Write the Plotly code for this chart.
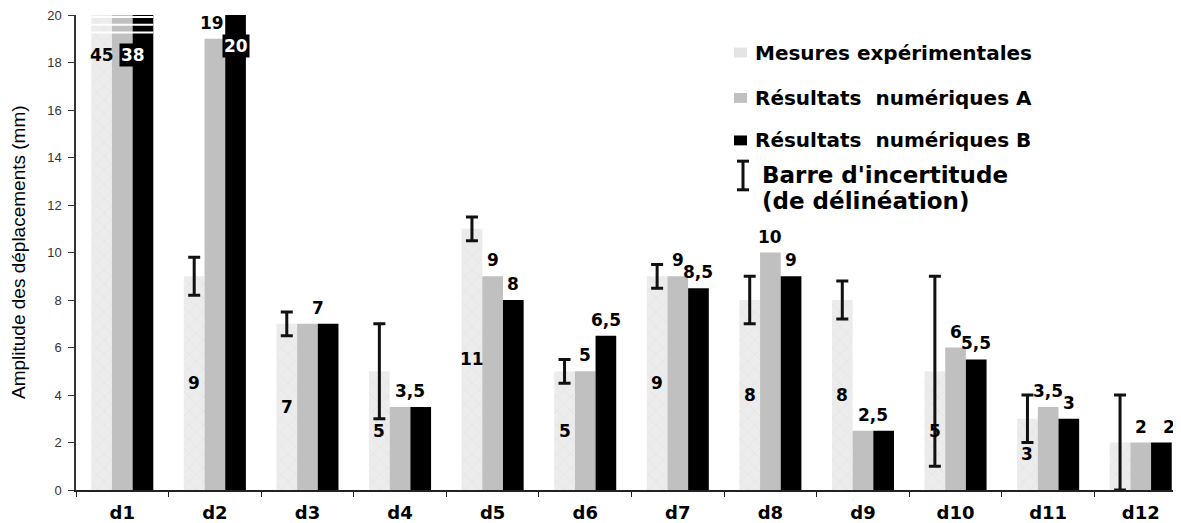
import plotly.graph_objects as go

categories = ["d1", "d2", "d3", "d4", "d5", "d6", "d7", "d8", "d9", "d10", "d11", "d12"]
mesures = [45, 9, 7, 5, 11, 5, 9, 8, 8, 5, 3, 2]
incertitude = [None, 0.8, 0.5, 2, 0.5, 0.5, 0.5, 1, 0.8, 4, 1, 2]
resultats_a = [38, 19, 7, 3.5, 9, 5, 9, 10, 2.5, 6, 3.5, 2]
resultats_b = [38, 20, 7, 3.5, 8, 6.5, 8.5, 9, 2.5, 5.5, 3, 2]
y_ticks = [0, 2, 4, 6, 8, 10, 12, 14, 16, 18, 20]

YMAX = 20
OFF = 8  # default page body margin
W, H = 1181 - OFF, 523 - OFF
ML, MR, MT, MB = 68, 0, 7, 27
BARGAP = 0.33
BW = (1 - BARGAP) / 3
LABEL_FONT = dict(family="DejaVu Sans", size=17, color="black", weight="bold")


def fmt(v):
    return f"{v:g}".replace(".", ",")


fig = go.Figure()
fig.add_trace(go.Bar(
    x=categories, y=mesures, name="Mesures expérimentales",
    marker=dict(color="#ececec", line=dict(width=0),
                pattern=dict(shape="x", fgcolor="#d3d3d3", size=10, solidity=0.1)),
    error_y=dict(type="data", array=incertitude, symmetric=True,
                 color="#111111", thickness=3, width=6),
))
fig.add_trace(go.Bar(x=categories, y=resultats_a, name="Résultats  numériques A",
                     marker=dict(color="#c0c0c0", line=dict(width=0))))
fig.add_trace(go.Bar(x=categories, y=resultats_b, name="Résultats  numériques B",
                     marker=dict(color="#000000", line=dict(width=0))))

ann = []
shapes = []

# labels on experimental bars (inside, middle)
for i, v in enumerate(mesures):
    if categories[i] == "d12":
        continue
    y = v / 2 if v <= YMAX else YMAX - 1.7
    ann.append(dict(x=i - BW, y=y, xref="x", yref="y", text=fmt(v),
                    showarrow=False, font=LABEL_FONT))


def top_label(x, v, xshift=0):
    if v >= YMAX:
        y = YMAX - 1.7 if v > YMAX else YMAX - 1.3
        ann.append(dict(x=x, y=y, xref="x", yref="y", text=fmt(v), showarrow=False,
                        font=dict(LABEL_FONT, color="white"), bgcolor="black",
                        borderpad=1, xshift=xshift))
    else:
        ann.append(dict(x=x, y=v, xref="x", yref="y", text=fmt(v), showarrow=False,
                        yanchor="bottom", yshift=4, font=LABEL_FONT, xshift=xshift))


for i, (a, b) in enumerate(zip(resultats_a, resultats_b)):
    if a == b and categories[i] != "d12":
        top_label(i + BW / 2, a)
    else:
        top_label(i, a, xshift=-3 if a > YMAX * 0.9 else 0)
        top_label(i + BW, b, xshift=8 if categories[i] == "d12" else 0)

# axis break marks on the first group
for k in range(3):
    yv = YMAX - 0.08 - k * 0.33
    shapes.append(dict(type="line", xref="x", yref="y", x0=-1.5 * BW, x1=1.5 * BW,
                       y0=yv, y1=yv, line=dict(color="white", width=2)))

# custom legend (positions given in window pixels)
PW = W - ML - MR
PH = H - MT - MB


def px(xp):
    return (xp - OFF - ML) / PW


def py(yp):
    return (OFF + H - MB - yp) / PH


legend_rows = [
    ("Mesures expérimentales", "#e4e4e4", 53),
    ("Résultats  numériques A", "#c0c0c0", 99),
    ("Résultats  numériques B", "#000000", 142),
]
for text, col, yc in legend_rows:
    shapes.append(dict(type="rect", xref="paper", yref="paper",
                       x0=px(734), x1=px(747), y0=py(yc + 5), y1=py(yc - 5),
                       fillcolor=col, line=dict(width=0)))
    ann.append(dict(x=px(753), y=py(yc), xref="paper", yref="paper", text=text,
                    xanchor="left", yanchor="middle", showarrow=False,
                    font=dict(family="DejaVu Sans", size=20, color="black", weight="bold")))

# error bar legend symbol
shapes.append(dict(type="line", xref="paper", yref="paper", x0=px(743), x1=px(743),
                   y0=py(163), y1=py(192), line=dict(color="#111111", width=3)))
for yy in (163, 192):
    shapes.append(dict(type="line", xref="paper", yref="paper", x0=px(737), x1=px(749),
                       y0=py(yy), y1=py(yy), line=dict(color="#111111", width=3)))
for text, yc in (("Barre d'incertitude", 177), ("(de délinéation)", 203)):
    ann.append(dict(x=px(760), y=py(yc), xref="paper", yref="paper", text=text,
                    xanchor="left", yanchor="middle", showarrow=False,
                    font=dict(family="DejaVu Sans", size=23, color="black", weight="bold")))

# y-axis title
ann.append(dict(x=0, y=0.5, xref="paper", yref="paper", xshift=-70,
                text="Amplitude des déplacements (mm)", textangle=-90, showarrow=False,
                font=dict(family="Liberation Sans", size=19, color="black")))

fig.update_layout(
    width=W, height=H,
    margin=dict(l=ML, r=MR, t=MT, b=MB, pad=0),
    barmode="group", bargap=BARGAP, bargroupgap=0,
    plot_bgcolor="white", paper_bgcolor="white",
    showlegend=False,
    annotations=ann, shapes=shapes,
    xaxis=dict(type="category", range=[-0.5, 11.435], showline=True, linecolor="#222",
               linewidth=1.5, ticks="outside", tickson="boundaries", ticklen=5,
               tickcolor="#222", showgrid=False, ticklabelstandoff=6,
               tickfont=dict(family="DejaVu Sans", size=18, color="black", weight="bold")),
    yaxis=dict(range=[0, YMAX], tickvals=y_ticks, showline=True, linecolor="#333",
               linewidth=1.5, ticks="outside", ticklen=6, tickcolor="#333",
               showgrid=False, zeroline=False, ticklabelstandoff=4,
               ticklabeloverflow="allow",
               tickfont=dict(family="Liberation Sans", size=13, color="#333")),
)

fig.write_html("out.html")
